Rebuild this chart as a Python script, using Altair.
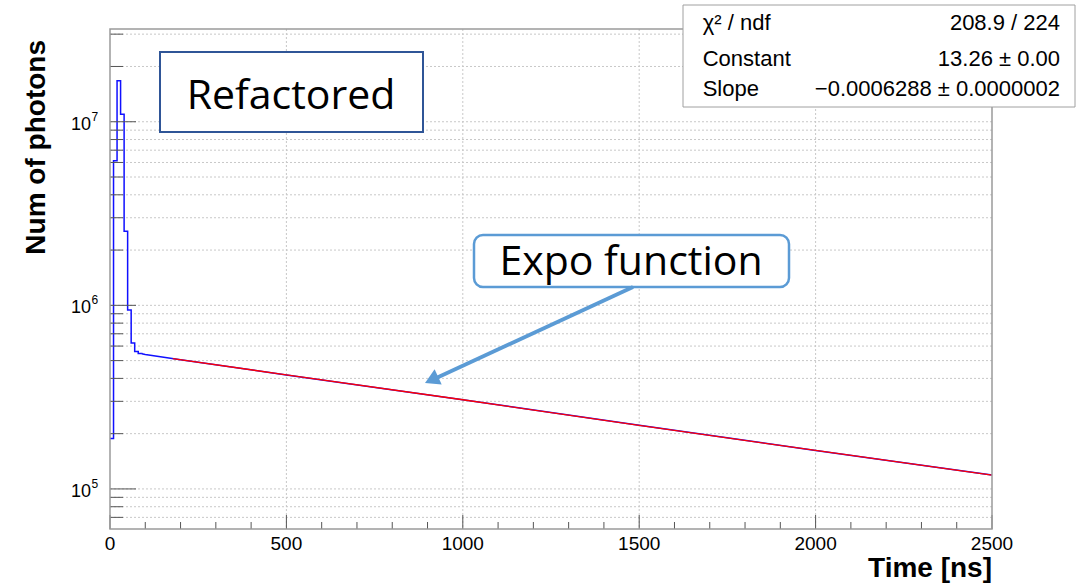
import altair as alt
import pandas as pd

# ---------------- data ----------------
bin_start = [0, 10, 20, 30, 40, 50, 60, 70, 80]              # ns, 10 ns bins
bin_counts = [1.88e5, 6.14e6, 1.67e7, 1.10e7, 2.53e6, 9.44e5, 6.24e5, 5.60e5, 5.47e5]

tail_time = [90, 100, 200, 500, 1000, 1500, 2000, 2500]
tail_counts = [5.45e5, 5.40e5, 5.06e5, 4.18e5, 3.06e5, 2.22e5, 1.62e5, 1.19e5]

fit_time = [178, 500, 1000, 1500, 2000, 2500]
fit_counts = [5.13e5, 4.18e5, 3.06e5, 2.22e5, 1.62e5, 1.19e5]

y_major_ticks = [1e5, 1e6, 1e7]
y_exponents = ["5", "6", "7"]
y_minor_ticks = [7e4, 8e4, 9e4,
                 2e5, 3e5, 4e5, 5e5, 6e5, 7e5, 8e5, 9e5,
                 2e6, 3e6, 4e6, 5e6, 6e6, 7e6, 8e6, 9e6,
                 2e7, 3e7]
x_major_ticks = [0, 500, 1000, 1500, 2000, 2500]
x_tick_labels = ["0", "500", "1000", "1500", "2000", "2500"]
x_grid_ticks = [500, 1000, 1500, 2000]
x_minor_ticks = [100, 200, 300, 400, 600, 700, 800, 900, 1100, 1200, 1300, 1400,
                 1600, 1700, 1800, 1900, 2100, 2200, 2300, 2400]

stats_names = ["χ² / ndf", "Constant", "Slope"]
stats_values = ["208.9 / 224", "13.26 ± 0.00", "−0.0006288 ± 0.0000002"]

# ---------------- frames ----------------
df_step = pd.DataFrame({"t": bin_start + [tail_time[0]], "n": bin_counts + [tail_counts[0]]})
df_tail = pd.DataFrame({"t": tail_time, "n": tail_counts})
df_fit = pd.DataFrame({"t": fit_time, "n": fit_counts})
df_ymaj = pd.DataFrame({"v": y_major_ticks, "e": y_exponents})
df_ymin = pd.DataFrame({"v": y_minor_ticks})
df_yall = pd.DataFrame({"v": y_major_ticks + y_minor_ticks})
df_xmaj = pd.DataFrame({"v": x_major_ticks, "lab": x_tick_labels})
df_xgrid = pd.DataFrame({"v": x_grid_ticks})
df_xmin = pd.DataFrame({"v": x_minor_ticks})

W, H = 882, 500
FONT = "Liberation Sans"
xs = alt.Scale(domain=[0, 2500], nice=False, zero=False)
ys = alt.Scale(type="log", domain=[60500, 3.2e7], nice=False)

def X(f):
    return alt.X(f, scale=xs, axis=None)

def Y(f):
    return alt.Y(f, scale=ys, axis=None)

grid_style = dict(color="#c8c8c8", strokeWidth=1, strokeDash=[2, 2])
ygrid = alt.Chart(df_yall).mark_rule(**grid_style).encode(
    y=Y("v:Q"), x=alt.value(0), x2=alt.value(W))
xgrid = alt.Chart(df_xgrid).mark_rule(**grid_style).encode(
    x=X("v:Q"), y=alt.value(0), y2=alt.value(H))

step = alt.Chart(df_step).mark_line(interpolate="step-after", color="#1010ff", strokeWidth=1.5).encode(
    x=X("t:Q"), y=Y("n:Q"))
tail = alt.Chart(df_tail).mark_line(color="#1010ff", strokeWidth=1.5).encode(
    x=X("t:Q"), y=Y("n:Q"))
fit = alt.Chart(df_fit).mark_line(color="#ff0000", strokeWidth=1.3).encode(
    x=X("t:Q"), y=Y("n:Q"))

tick_col = "#555555"
ymaj_ticks = alt.Chart(df_ymaj).mark_rule(color=tick_col, strokeWidth=1).encode(
    y=Y("v:Q"), x=alt.value(0), x2=alt.value(26))
ymin_ticks = alt.Chart(df_ymin).mark_rule(color=tick_col, strokeWidth=1).encode(
    y=Y("v:Q"), x=alt.value(0), x2=alt.value(13))
xmaj_ticks = alt.Chart(df_xmaj).mark_rule(color=tick_col, strokeWidth=1).encode(
    x=X("v:Q"), y=alt.value(H), y2=alt.value(H - 14))
xmin_ticks = alt.Chart(df_xmin).mark_rule(color=tick_col, strokeWidth=1).encode(
    x=X("v:Q"), y=alt.value(H), y2=alt.value(H - 7))

xlabels = alt.Chart(df_xmaj).mark_text(align="center", baseline="alphabetic", font=FONT,
                                       fontSize=19, color="black").encode(
    x=X("v:Q"), y=alt.value(H + 21), text="lab:N")
ylab10 = alt.Chart(df_ymaj).mark_text(align="right", baseline="middle", dy=3, font=FONT,
                                      fontSize=18, color="black").encode(
    y=Y("v:Q"), x=alt.value(-19), text=alt.value("10"))
ylabexp = alt.Chart(df_ymaj).mark_text(align="left", baseline="middle", dy=-5, font=FONT,
                                       fontSize=12, color="black").encode(
    y=Y("v:Q"), x=alt.value(-18.5), text="e:N")

frame = alt.Chart().mark_rect(fillOpacity=0, stroke="#9a9a9a", strokeWidth=1.5).encode(
    x=alt.value(0), x2=alt.value(W), y=alt.value(0), y2=alt.value(H))

xtitle = alt.Chart().mark_text(align="right", baseline="alphabetic", font=FONT, fontSize=28,
                               fontWeight="bold", color="black").encode(
    x=alt.value(W), y=alt.value(548), text=alt.value("Time [ns]"))
ytitle = alt.Chart().mark_text(align="right", baseline="alphabetic", angle=270, font=FONT,
                               fontSize=28, fontWeight="bold", color="black").encode(
    x=alt.value(-65), y=alt.value(11), text=alt.value("Num of photons"))

# "Refactored" box
ref_box = alt.Chart().mark_rect(fill="white", stroke="#2F5597", strokeWidth=2).encode(
    x=alt.value(50), x2=alt.value(313), y=alt.value(23), y2=alt.value(103))
ref_text = alt.Chart().mark_text(align="center", baseline="alphabetic", font="Open Sans",
                                 fontSize=41, color="black").encode(
    x=alt.value(181), y=alt.value(80), text=alt.value("Refactored"))

# "Expo function" call-out
expo_box = alt.Chart().mark_rect(fill="white", stroke="#5B9BD5", strokeWidth=2.5, cornerRadius=9).encode(
    x=alt.value(364), x2=alt.value(679), y=alt.value(206), y2=alt.value(258))
expo_text = alt.Chart().mark_text(align="center", baseline="alphabetic", font="Open Sans",
                                  fontSize=41, color="black").encode(
    x=alt.value(521), y=alt.value(246), text=alt.value("Expo function"))
arrow_line = alt.Chart().mark_rule(color="#5B9BD5", strokeWidth=4).encode(
    x=alt.value(523), y=alt.value(258), x2=alt.value(322), y2=alt.value(351))
arrow_head = alt.Chart().mark_point(shape="triangle-up", filled=True, color="#5B9BD5",
                                    opacity=1, size=280, angle=245).encode(
    x=alt.value(321.6), y=alt.value(351))

# stats box
stats_box = alt.Chart().mark_rect(fill="white", stroke="#a0a0a0", strokeWidth=1).encode(
    x=alt.value(573), x2=alt.value(965), y=alt.value(-24), y2=alt.value(78))
row_base = [1, 37, 67]
stats_layers = []
for i in range(3):
    stats_layers.append(alt.Chart().mark_text(align="left", baseline="alphabetic", font=FONT,
                                              fontSize=22, color="black").encode(
        x=alt.value(592.7), y=alt.value(row_base[i]), text=alt.value(stats_names[i])))
    stats_layers.append(alt.Chart().mark_text(align="right", baseline="alphabetic", font=FONT,
                                              fontSize=22, color="black").encode(
        x=alt.value(950), y=alt.value(row_base[i]), text=alt.value(stats_values[i])))

chart = alt.layer(
    ygrid, xgrid,
    step, tail, fit,
    ymaj_ticks, ymin_ticks, xmaj_ticks, xmin_ticks,
    frame, xlabels, ylab10, ylabexp, xtitle, ytitle,
    ref_box, ref_text, expo_box, expo_text, arrow_line, arrow_head,
    stats_box, *stats_layers,
).properties(
    width=W, height=H,
    padding={"left": 110, "top": 29, "right": 99, "bottom": 54},
    autosize=alt.AutoSizeParams(type="none"),
    background="white",
).configure_view(stroke=None)

chart.save("out.html", embed_options={"renderer": "svg", "actions": False})
